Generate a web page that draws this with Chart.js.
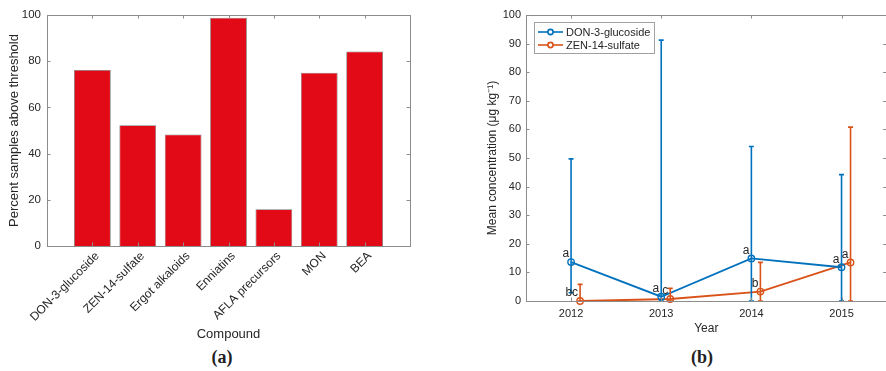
<!DOCTYPE html>
<html>
<head>
<meta charset="utf-8">
<script src="https://cdn.jsdelivr.net/npm/chart.js@4.4.1/dist/chart.umd.min.js"></script>
<style>
  html, body { margin: 0; padding: 0; background: #fff; overflow: hidden; }
  body { width: 886px; height: 371px; position: relative; }
  .panel { position: absolute; top: 0; }
  #panelA { left: 0; width: 440px; height: 345px; }
  #panelB { left: 440px; width: 452px; height: 345px; }
  .caption {
    position: absolute; top: 347px; width: 60px; margin-left: -30px;
    text-align: center; font: bold 18px 'Liberation Serif', 'DejaVu Serif', serif; color: #222;
  }
</style>
</head>
<body>
<div class="panel" id="panelA"><canvas id="barChart"></canvas></div>
<div class="panel" id="panelB"><canvas id="yearChart"></canvas></div>
<div class="caption" style="left:222px">(a)</div>
<div class="caption" style="left:702px">(b)</div>

<script>
/* ── Panel (a): percent of samples above threshold ───── */
const COMPOUNDS = ['DON-3-glucoside', 'ZEN-14-sulfate', 'Ergot alkaloids', 'Enniatins', 'AFLA precursors', 'MON', 'BEA'];
const PERCENT_ABOVE = [76.2, 52.3, 48.3, 98.8, 15.9, 75.0, 84.2];
const PERCENT_TICKS = [0, 20, 40, 60, 80, 100];

/* ── Panel (b): mean concentration per year ─────────── */
const YEARS = [2012, 2013, 2014, 2015];
const DON_MEAN = [13.6, 1.5, 14.9, 11.8];
const DON_LOW = [2.9, 0, 0, 0];
const DON_HIGH = [49.7, 91.2, 54.0, 44.2];
const DON_GROUPS = ['a', 'a', 'a', 'a'];
const ZEN_MEAN = [0, 0.7, 3.3, 13.5];
const ZEN_LOW = [0, 0, 0, 0];
const ZEN_HIGH = [5.8, 4.4, 13.5, 60.8];
const ZEN_GROUPS = ['bc', 'c', 'b', 'a'];
const CONC_TICKS = [0, 10, 20, 30, 40, 50, 60, 70, 80, 90, 100];

const ZEN_DODGE = 0.1;   // shift orange series right so bars don't overlap

const RED = '#e20a16';
const BLUE = '#0072bd';
const ORANGE = '#d95319';
const TEXT = '#262626';
const AXIS = '#8c8c8c';
const FONT = "'Liberation Sans', Arial, Helvetica, sans-serif";

Chart.defaults.font.family = FONT;
Chart.defaults.color = TEXT;
Chart.defaults.animation = false;

/* Box round the plot area with inward tick marks on all four sides */
const boxPlugin = {
  id: 'box',
  afterDraw(chart) {
    const { ctx, chartArea: a, scales } = chart;
    const len = 3.5;
    ctx.save();
    ctx.strokeStyle = AXIS;
    ctx.lineWidth = 1;
    ctx.strokeRect(Math.round(a.left) + 0.5, Math.round(a.top) + 0.5,
                   Math.round(a.right - a.left), Math.round(a.bottom - a.top));
    ctx.beginPath();
    scales.x.ticks.forEach(t => {
      const x = Math.round(scales.x.getPixelForValue(t.value)) + 0.5;
      ctx.moveTo(x, a.bottom); ctx.lineTo(x, a.bottom - len);
      ctx.moveTo(x, a.top);    ctx.lineTo(x, a.top + len);
    });
    scales.y.ticks.forEach(t => {
      const y = Math.round(scales.y.getPixelForValue(t.value)) + 0.5;
      ctx.moveTo(a.left, y);  ctx.lineTo(a.left + len, y);
      ctx.moveTo(a.right, y); ctx.lineTo(a.right - len, y);
    });
    ctx.stroke();
    ctx.restore();
  }
};

/* Vertical error bars with caps, plus group letters next to each mean */
const errorBarPlugin = {
  id: 'errorBars',
  afterDatasetsDraw(chart) {
    const { ctx, scales } = chart;
    const cap = 2.5;
    ctx.save();
    chart.data.datasets.forEach((ds, di) => {
      const meta = chart.getDatasetMeta(di);
      ctx.strokeStyle = ds.borderColor;
      ctx.lineWidth = 1.6;
      meta.data.forEach((pt, i) => {
        const x = pt.x;
        const yLo = scales.y.getPixelForValue(ds.errLow[i]);
        const yHi = scales.y.getPixelForValue(ds.errHigh[i]);
        ctx.beginPath();
        ctx.moveTo(x, yLo); ctx.lineTo(x, yHi);
        ctx.moveTo(x - cap, yLo); ctx.lineTo(x + cap, yLo);
        ctx.moveTo(x - cap, yHi); ctx.lineTo(x + cap, yHi);
        ctx.stroke();
      });
    });
    ctx.fillStyle = TEXT;
    ctx.font = '12px ' + FONT;
    ctx.textAlign = 'right';
    ctx.textBaseline = 'bottom';
    chart.data.datasets.forEach((ds, di) => {
      chart.getDatasetMeta(di).data.forEach((pt, i) => {
        ctx.fillText(ds.groups[i], pt.x - 2, pt.y - 2);
      });
    });
    ctx.restore();
  }
};

/* Legend box in the upper-left corner of panel (b) */
const cornerLegendPlugin = {
  id: 'cornerLegend',
  afterDraw(chart) {
    const { ctx, chartArea: a } = chart;
    const x0 = a.left + 8, y0 = a.top + 7;
    const w = 120, rowH = 13;
    ctx.save();
    ctx.fillStyle = '#fff';
    ctx.strokeStyle = '#a0a0a0';
    ctx.lineWidth = 1;
    ctx.fillRect(x0, y0, w, 31);
    ctx.strokeRect(x0 + 0.5, y0 + 0.5, w, 31);
    ctx.font = '11px ' + FONT;
    ctx.textBaseline = 'middle';
    chart.data.datasets.forEach((ds, i) => {
      const y = y0 + 10 + i * rowH;
      ctx.strokeStyle = ds.borderColor;
      ctx.lineWidth = 1.6;
      ctx.beginPath();
      ctx.moveTo(x0 + 4, y); ctx.lineTo(x0 + 29, y);
      ctx.stroke();
      ctx.beginPath();
      ctx.arc(x0 + 16.5, y, 2.6, 0, Math.PI * 2);
      ctx.fillStyle = '#fff';
      ctx.fill();
      ctx.stroke();
      ctx.fillStyle = TEXT;
      ctx.fillText(ds.label, x0 + 32, y + 0.5);
    });
    ctx.restore();
  }
};

/* ── Bar chart ───────────────────────────────────────── */
new Chart(document.getElementById('barChart'), {
  type: 'bar',
  data: {
    datasets: [{
      data: COMPOUNDS.map((c, i) => ({ x: i + 1, y: PERCENT_ABOVE[i] })),
      backgroundColor: RED,
      borderColor: '#7a7a7a',
      borderWidth: 0.8,
      borderSkipped: 'bottom',
      barPercentage: 0.81,
      categoryPercentage: 1
    }]
  },
  options: {
    responsive: true,
    maintainAspectRatio: false,
    layout: { padding: { top: 15, right: 30, bottom: 3, left: 0 } },
    plugins: { legend: { display: false }, tooltip: { enabled: false } },
    scales: {
      x: {
        type: 'linear', min: 0, max: COMPOUNDS.length + 1, offset: false,
        grid: { display: false, drawTicks: false }, border: { display: false },
        afterBuildTicks: s => { s.ticks = COMPOUNDS.map((c, i) => ({ value: i + 1 })); },
        afterFit: s => { s.height = 96; },
        ticks: {
          autoSkip: false, minRotation: 45, maxRotation: 45, padding: 3, labelOffset: 5,
          font: { size: 12 }, color: TEXT,
          callback: v => COMPOUNDS[v - 1]
        },
        title: { display: true, text: 'Compound', font: { size: 13 }, color: TEXT, padding: 0 }
      },
      y: {
        min: 0, max: 100,
        grid: { display: false, drawTicks: false }, border: { display: false },
        afterBuildTicks: s => { s.ticks = PERCENT_TICKS.map(v => ({ value: v })); },
        afterFit: s => { s.width = 47; },
        ticks: { padding: 6, font: { size: 11.5 }, color: TEXT },
        title: { display: true, text: 'Percent samples above threshold', font: { size: 13 }, color: TEXT, padding: { top: 6.5, bottom: 0 } }
      }
    }
  },
  plugins: [boxPlugin]
});

/* ── Line chart with error bars ─────────────────────── */
new Chart(document.getElementById('yearChart'), {
  type: 'line',
  data: {
    datasets: [{
      label: 'DON-3-glucoside',
      data: YEARS.map((yr, i) => ({ x: yr, y: DON_MEAN[i] })),
      errLow: DON_LOW, errHigh: DON_HIGH, groups: DON_GROUPS,
      borderColor: BLUE, borderWidth: 1.8,
      pointRadius: 3.2, pointBorderWidth: 1.4,
      pointBackgroundColor: 'rgba(255,255,255,0)', pointBorderColor: BLUE,
      tension: 0, clip: false
    }, {
      label: 'ZEN-14-sulfate',
      data: YEARS.map((yr, i) => ({ x: yr + ZEN_DODGE, y: ZEN_MEAN[i] })),
      errLow: ZEN_LOW, errHigh: ZEN_HIGH, groups: ZEN_GROUPS,
      borderColor: ORANGE, borderWidth: 1.8,
      pointRadius: 3.2, pointBorderWidth: 1.4,
      pointBackgroundColor: 'rgba(255,255,255,0)', pointBorderColor: ORANGE,
      tension: 0, clip: false
    }]
  },
  options: {
    responsive: true,
    maintainAspectRatio: false,
    layout: { padding: { top: 15, right: 2.5, bottom: 9, left: 0 } },
    plugins: { legend: { display: false }, tooltip: { enabled: false } },
    scales: {
      x: {
        type: 'linear', min: YEARS[0] - 0.5, max: YEARS[YEARS.length - 1] + 0.5,
        grid: { display: false, drawTicks: false }, border: { display: false },
        afterBuildTicks: s => { s.ticks = YEARS.map(v => ({ value: v })); },
        afterFit: s => { s.height = 35; },
        ticks: { padding: 6, font: { size: 11 }, color: TEXT, callback: v => String(v) },
        title: { display: true, text: 'Year', font: { size: 12 }, color: TEXT, padding: 0 }
      },
      y: {
        min: 0, max: 100,
        grid: { display: false, drawTicks: false }, border: { display: false },
        afterBuildTicks: s => { s.ticks = CONC_TICKS.map(v => ({ value: v })); },
        afterFit: s => { s.width = 86; },
        ticks: { padding: 5, font: { size: 11 }, color: TEXT },
        title: { display: true, text: 'Mean concentration (μg kg⁻¹)', font: { size: 12 }, color: TEXT, padding: { top: 45.5, bottom: 0 } }
      }
    }
  },
  plugins: [boxPlugin, errorBarPlugin, cornerLegendPlugin]
});
</script>
</body>
</html>
